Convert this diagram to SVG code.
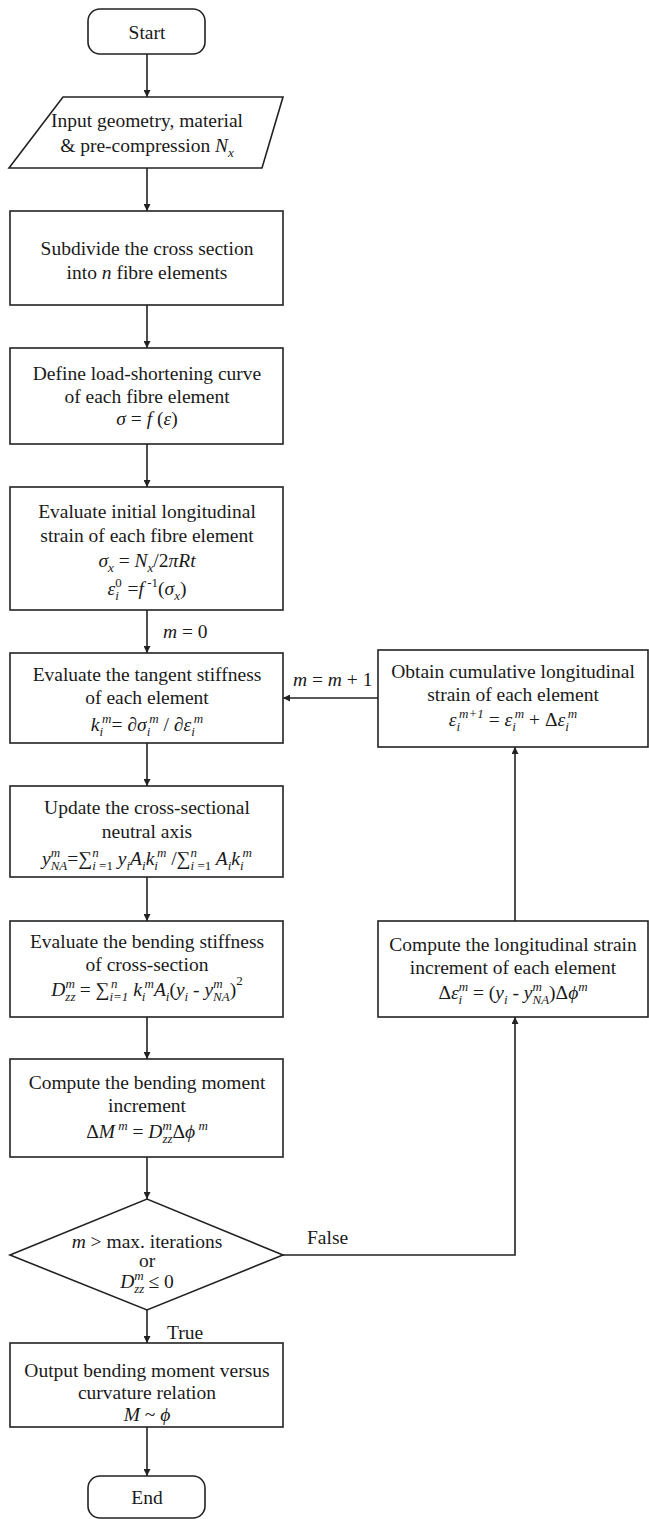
<svg xmlns="http://www.w3.org/2000/svg" width="649" height="1519" viewBox="0 0 649 1519">
<defs>
<marker id="ah" viewBox="0 0 10 10" refX="10" refY="5" markerWidth="9" markerHeight="7" orient="auto" markerUnits="userSpaceOnUse">
<path d="M0,0 L10,5 L0,10 z" fill="#222"/>
</marker>
</defs>
<style>
.n rect, .n polygon {fill:#fff; stroke:#222; stroke-width:1.6}
.t {font-family:"Liberation Serif","Times New Roman",serif; font-size:19.5px; fill:#1a1a1a; text-anchor:middle}
.l {text-anchor:start}
.i {font-style:italic}
.s {font-size:13px}
.c path {fill:none; stroke:#222; stroke-width:1.6; marker-end:url(#ah)}
</style>
<rect width="649" height="1519" fill="#fff"/>
<g class="c" id="connectors">
<path d="M147,54 V97"/>
<path d="M147,168 V211"/>
<path d="M147,305 V348"/>
<path d="M147,444 V487"/>
<path d="M147,610 V653"/>
<path d="M147,743 V786"/>
<path d="M147,877 V921"/>
<path d="M147,1017 V1059"/>
<path d="M147,1157 V1199"/>
<path d="M147,1310 V1343"/>
<path d="M147,1427 V1476"/>
<path d="M283,1255 H515 V1017"/>
<path d="M515,921 V747"/>
<path d="M378,698 H283"/>
<text class="t l" x="163" y="638"><tspan class="i">m</tspan> = 0</text>
<text class="t l" x="293" y="686"><tspan class="i">m</tspan> = <tspan class="i">m</tspan> + 1</text>
<text class="t l" x="167" y="1339">True</text>
<text class="t l" x="307" y="1244">False</text>
</g>
<g class="n" id="start">
<rect x="88" y="9" width="117" height="45" rx="12"/>
<text class="t" x="147" y="39">Start</text>
</g>
<g class="n" id="input">
<polygon points="63,97 283,97 262,168 9,168"/>
<text class="t" x="147" y="127">Input geometry, material</text>
<text class="t" x="147" y="152">&amp; pre-compression <tspan class="i">N</tspan><tspan class="i s" dy="5">x</tspan></text>
</g>
<g class="n" id="subdivide">
<rect x="10" y="211" width="273" height="94"/>
<text class="t" x="147" y="255">Subdivide the cross section</text>
<text class="t" x="147" y="279">into <tspan class="i">n</tspan> fibre elements</text>
</g>
<g class="n" id="define">
<rect x="10" y="348" width="273" height="96"/>
<text class="t" x="147" y="380">Define load-shortening curve</text>
<text class="t" x="147" y="403">of each fibre element</text>
<text class="t" x="147" y="425"><tspan class="i">σ</tspan> = <tspan class="i">f</tspan> (<tspan class="i">ε</tspan>)</text>
</g>
<g class="n" id="initial">
<rect x="10" y="487" width="273" height="123"/>
<text class="t" x="147" y="518">Evaluate initial longitudinal</text>
<text class="t" x="147" y="542">strain of each fibre element</text>
<text class="t" x="147" y="567"><tspan class="i">σ</tspan><tspan class="i s" dy="5">x</tspan><tspan dy="-5"> = </tspan><tspan class="i">N</tspan><tspan class="i s" dy="5">x</tspan><tspan dy="-5">/2</tspan><tspan class="i">πRt</tspan></text>
<text class="t" x="147" y="595"><tspan class="i">ε</tspan><tspan class="i s" dy="5">i</tspan><tspan class="s" dx="-3.6" dy="-13">0</tspan><tspan dx="1" dy="8"> =</tspan><tspan class="i">f</tspan><tspan class="s" dy="-8"> -1</tspan><tspan dy="8">(</tspan><tspan class="i">σ</tspan><tspan class="i s" dy="5">x</tspan><tspan dy="-5">)</tspan></text>
</g>
<g class="n" id="tangent">
<rect x="10" y="653" width="273" height="90"/>
<text class="t" x="147" y="681">Evaluate the tangent stiffness</text>
<text class="t" x="147" y="704">of each element</text>
<text class="t" x="147" y="731"><tspan class="i">k</tspan><tspan class="i s" dy="5">i</tspan><tspan class="i s" dx="-1" dy="-13">m</tspan><tspan dy="8">= ∂</tspan><tspan class="i">σ</tspan><tspan class="i s" dy="5">i</tspan><tspan class="i s" dx="-1" dy="-13">m</tspan><tspan dy="8"> / ∂</tspan><tspan class="i">ε</tspan><tspan class="i s" dy="5">i</tspan><tspan class="i s" dx="-1" dy="-13">m</tspan></text>
</g>
<g class="n" id="update">
<rect x="10" y="786" width="273" height="91"/>
<text class="t" x="147" y="814">Update the cross-sectional</text>
<text class="t" x="147" y="838">neutral axis</text>
<text class="t" x="147" y="865"><tspan class="i">y</tspan><tspan class="i s" dy="5">NA</tspan><tspan class="i s" dx="-16.6" dy="-13">m</tspan><tspan dx="7.2" dy="8">=∑</tspan><tspan class="s" dy="5"><tspan class="i">i</tspan> =1</tspan><tspan class="i s" dx="-20.7" dy="-13">n</tspan><tspan class="i" dx="14.2" dy="8"> y</tspan><tspan class="i s" dy="5">i</tspan><tspan class="i" dy="-5">A</tspan><tspan class="i s" dy="5">i</tspan><tspan class="i" dy="-5">k</tspan><tspan class="i s" dy="5">i</tspan><tspan class="i s" dx="-1" dy="-13">m</tspan><tspan dy="8"> /∑</tspan><tspan class="s" dy="5"><tspan class="i">i</tspan> =1</tspan><tspan class="i s" dx="-20.7" dy="-13">n</tspan><tspan class="i" dx="14.2" dy="8"> A</tspan><tspan class="i s" dy="5">i</tspan><tspan class="i" dy="-5">k</tspan><tspan class="i s" dy="5">i</tspan><tspan class="i s" dx="-1" dy="-13">m</tspan></text>
</g>
<g class="n" id="bending">
<rect x="10" y="921" width="273" height="96"/>
<text class="t" x="147" y="948">Evaluate the bending stiffness</text>
<text class="t" x="147" y="971">of cross-section</text>
<text class="t" x="147" y="996"><tspan class="i">D</tspan><tspan class="i s" dy="5">zz</tspan><tspan class="i s" dx="-10.1" dy="-13">m</tspan><tspan dy="8"> = ∑</tspan><tspan class="i s" dy="5">i=1</tspan><tspan class="i s" dx="-17.4" dy="-13">n</tspan><tspan class="i" dx="10.9" dy="8"> k</tspan><tspan class="i s" dy="5">i</tspan><tspan class="i s" dx="-1" dy="-13">m</tspan><tspan class="i" dy="8">A</tspan><tspan class="i s" dy="5">i</tspan><tspan dy="-5">(</tspan><tspan class="i">y</tspan><tspan class="i s" dy="5">i</tspan><tspan dy="-5"> - </tspan><tspan class="i">y</tspan><tspan class="i s" dy="5">NA</tspan><tspan class="i s" dx="-16.6" dy="-13">m</tspan><tspan dx="7.2" dy="8">)</tspan><tspan class="s" dy="-11">2</tspan></text>
</g>
<g class="n" id="moment">
<rect x="10" y="1059" width="273" height="98"/>
<text class="t" x="147" y="1089">Compute the bending moment</text>
<text class="t" x="147" y="1112">increment</text>
<text class="t" x="147" y="1138">Δ<tspan class="i">M</tspan><tspan class="i s" dy="-8"> m</tspan><tspan dy="8"> = </tspan><tspan class="i">D</tspan><tspan class="i s" dy="5">zz</tspan><tspan class="i s" dx="-10.1" dy="-13">m</tspan><tspan dx="0.7" dy="8">Δ</tspan><tspan class="i">ϕ</tspan><tspan class="i s" dy="-8"> m</tspan></text>
</g>
<g class="n" id="decision">
<polygon points="10,1255 147,1199 283,1255 147,1310"/>
<text class="t" x="147" y="1248"><tspan class="i">m</tspan> &gt; max. iterations</text>
<text class="t" x="147" y="1267">or</text>
<text class="t" x="147" y="1288"><tspan class="i">D</tspan><tspan class="i s" dy="5">zz</tspan><tspan class="i s" dx="-10.1" dy="-13">m</tspan><tspan dy="8"> ≤ 0</tspan></text>
</g>
<g class="n" id="output">
<rect x="10" y="1343" width="273" height="84"/>
<text class="t" x="147" y="1377">Output bending moment versus</text>
<text class="t" x="147" y="1399">curvature relation</text>
<text class="t" x="147" y="1421"><tspan class="i">M</tspan> ~ <tspan class="i">ϕ</tspan></text>
</g>
<g class="n" id="end">
<rect x="88" y="1476" width="117" height="42" rx="12"/>
<text class="t" x="147" y="1504">End</text>
</g>
<g class="n" id="cumulative">
<rect x="378" y="650" width="270" height="97"/>
<text class="t" x="513" y="678">Obtain cumulative longitudinal</text>
<text class="t" x="513" y="701">strain of each element</text>
<text class="t" x="513" y="726"><tspan class="i">ε</tspan><tspan class="i s" dy="5">i</tspan><tspan class="i s" dx="-1" dy="-13">m+1</tspan><tspan dy="8"> = </tspan><tspan class="i">ε</tspan><tspan class="i s" dy="5">i</tspan><tspan class="i s" dx="-1" dy="-13">m</tspan><tspan dy="8"> + Δ</tspan><tspan class="i">ε</tspan><tspan class="i s" dy="5">i</tspan><tspan class="i s" dx="-1" dy="-13">m</tspan></text>
</g>
<g class="n" id="increment">
<rect x="378" y="921" width="270" height="96"/>
<text class="t" x="513" y="951">Compute the longitudinal strain</text>
<text class="t" x="513" y="974">increment of each element</text>
<text class="t" x="513" y="999">Δ<tspan class="i">ε</tspan><tspan class="i s" dy="5">i</tspan><tspan class="i s" dx="-3.6" dy="-13">m</tspan><tspan dy="8"> = (</tspan><tspan class="i">y</tspan><tspan class="i s" dy="5">i</tspan><tspan dy="-5"> - </tspan><tspan class="i">y</tspan><tspan class="i s" dy="5">NA</tspan><tspan class="i s" dx="-16.6" dy="-13">m</tspan><tspan dx="7.2" dy="8">)Δ</tspan><tspan class="i">ϕ</tspan><tspan class="i s" dy="-8">m</tspan></text>
</g>
</svg>
